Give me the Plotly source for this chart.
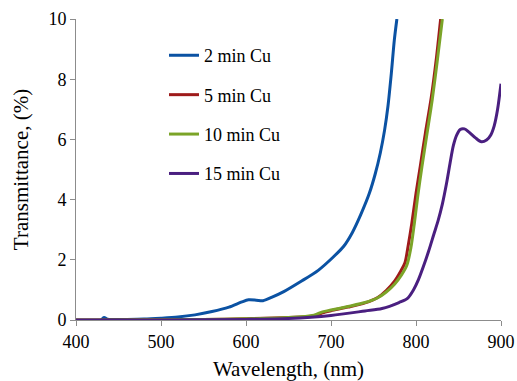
import plotly.graph_objects as go

# Transmittance spectra of films with different Cu deposition times
wl_2min = [430, 433, 437, 445, 460, 480, 500, 520, 540, 560, 580, 595, 603, 612, 620,
           630, 645, 664, 685, 703, 715, 725, 735, 745, 752, 758, 763, 767, 771, 774.5, 777.5]
t_2min = [0.0, 0.08, 0.03, 0.02, 0.02, 0.03, 0.06, 0.1, 0.17, 0.28, 0.43, 0.6, 0.67, 0.66, 0.64,
          0.75, 0.95, 1.27, 1.65, 2.1, 2.45, 2.9, 3.5, 4.2, 4.85, 5.55, 6.3, 7.1, 8.2, 9.3, 10.0]

wl_5min = [400, 450, 500, 550, 600, 650, 680, 690, 700, 720, 740, 755, 765, 775, 782,
           787, 791, 795, 800, 805, 811, 818, 824, 829]
t_5min = [0.0, 0.0, 0.01, 0.02, 0.04, 0.08, 0.13, 0.24, 0.31, 0.43, 0.57, 0.75, 0.98, 1.3, 1.62,
          1.9, 2.5, 3.2, 4.2, 5.1, 6.2, 7.4, 8.7, 10.0]

wl_10min = [400, 450, 500, 550, 600, 650, 680, 690, 700, 720, 740, 755, 765, 775, 783,
            789, 794, 798, 802, 807, 813, 819, 825, 831]
t_10min = [0.0, 0.0, 0.01, 0.02, 0.04, 0.08, 0.16, 0.27, 0.33, 0.45, 0.58, 0.74, 0.93, 1.2, 1.5,
           1.8, 2.4, 3.2, 4.1, 5.1, 6.2, 7.3, 8.6, 10.0]

wl_15min = [400, 500, 600, 650, 700, 740, 760, 780, 790, 797, 803, 809, 815, 821, 826,
            831, 836, 840, 844, 848, 852, 857, 862, 870, 877, 883, 888, 892, 896, 900]
t_15min = [0.0, 0.0, 0.02, 0.05, 0.15, 0.3, 0.38, 0.58, 0.72, 1.0, 1.35, 1.8, 2.3, 2.85, 3.3,
           3.85, 4.55, 5.2, 5.8, 6.15, 6.33, 6.35, 6.25, 6.05, 5.92, 5.98, 6.15, 6.45, 7.0, 7.85]

series = [
    ("2 min Cu", wl_2min, t_2min, "#0B52A3"),
    ("5 min Cu", wl_5min, t_5min, "#9E1A1A"),
    ("10 min Cu", wl_10min, t_10min, "#7BA428"),
    ("15 min Cu", wl_15min, t_15min, "#4A1F80"),
]

FONT = "Liberation Serif"

fig = go.Figure()
for name, x, y, color in series:
    fig.add_trace(go.Scatter(
        x=x, y=y, mode="lines", name=name, legendgroup=name,
        line=dict(color=color, width=3, shape="spline", smoothing=0.8),
    ))

axis_common = dict(
    showgrid=False, zeroline=False, showline=True, linecolor="#8c8c8c", linewidth=1,
    ticks="outside", ticklen=5, tickcolor="#8c8c8c", automargin=False,
    tickfont=dict(family=FONT, size=18, color="black"),
)

fig.update_layout(
    width=517, height=381,
    margin=dict(l=76, r=16, t=19, b=61),
    paper_bgcolor="white", plot_bgcolor="white",
    font=dict(family=FONT, size=18, color="black"),
    showlegend=True,
    legend=dict(
        x=0.207, y=0.94, xanchor="left", yanchor="top",
        font=dict(family=FONT, size=18, color="black"),
        bgcolor="rgba(0,0,0,0)", itemwidth=30, tracegroupgap=13,
    ),
    xaxis=dict(
        range=[400, 900], tickvals=[400, 500, 600, 700, 800, 900],
        title=dict(text="Wavelength, (nm)", font=dict(family=FONT, size=21), standoff=10),
        **axis_common,
    ),
    yaxis=dict(
        range=[0, 10], tickvals=[0, 2, 4, 6, 8, 10],
        title=dict(text="Transmittance, (%)", font=dict(family=FONT, size=21), standoff=14),
        **axis_common,
    ),
)

fig.write_html("out.html")
